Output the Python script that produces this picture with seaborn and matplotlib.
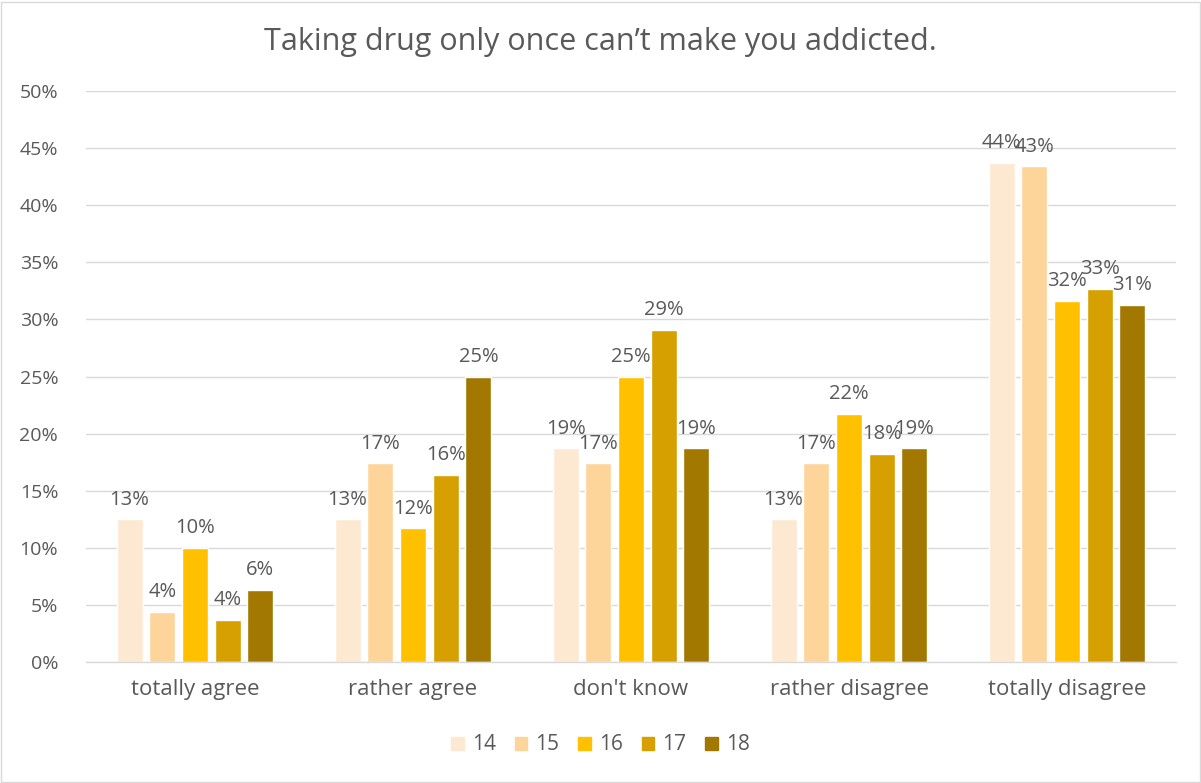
import matplotlib
matplotlib.use("Agg")
import matplotlib.pyplot as plt
import seaborn as sns
import pandas as pd
from matplotlib.ticker import FuncFormatter
from matplotlib.patches import Rectangle

categories = ["totally agree", "rather agree", "don't know", "rather disagree", "totally disagree"]
ages = ["14", "15", "16", "17", "18"]
age14 = [12.5, 12.5, 18.7, 12.5, 43.7]
age15 = [4.4, 17.4, 17.4, 17.4, 43.4]
age16 = [10.0, 11.7, 25.0, 21.7, 31.6]
age17 = [3.7, 16.4, 29.1, 18.2, 32.7]
age18 = [6.3, 25.0, 18.7, 18.7, 31.3]
colors = ["#FDE9D2", "#FDD59B", "#FFC000", "#D6A000", "#A27800"]
title = "Taking drug only once can\u2019t make you addicted."

series = [age14, age15, age16, age17, age18]
rows = []
for age, vals in zip(ages, series):
    for c, v in zip(categories, vals):
        rows.append({"category": c, "age": age, "value": v})
df = pd.DataFrame(rows)

sns.set_theme(style="white")
plt.rcParams['font.family'] = ['Open Sans', 'DejaVu Sans']
text_color = "#595959"

fig = plt.figure(figsize=(12.01, 7.83), dpi=100)
ax = fig.add_axes([86/1201, 1-662/783, 1090/1201, (662-91)/783])

sns.barplot(data=df, x="category", y="value", hue="age", order=categories,
            hue_order=ages, palette=colors, width=0.75, gap=0.2, ax=ax,
            saturation=1, legend=True, errorbar=None)

for cont in ax.containers:
    labels = [f"{int(b.get_height() + 0.5)}%" for b in cont]
    ax.bar_label(cont, labels=labels, padding=7, fontsize=14.5, color=text_color)

ax.set_ylim(0, 50)
ax.set_yticks(range(0, 51, 5))
ax.yaxis.set_major_formatter(FuncFormatter(lambda v, p: f"{int(v)}%"))
ax.set_xlim(-0.5, 4.5)
ax.grid(axis="y", color="#D9D9D9", linewidth=1)
ax.set_axisbelow(True)
for s in ["top", "right", "left"]:
    ax.spines[s].set_visible(False)
ax.spines["bottom"].set_color("#D9D9D9")
ax.spines["bottom"].set_linewidth(1)
ax.tick_params(axis="y", length=0, labelsize=14, colors=text_color, pad=20)
ax.tick_params(axis="x", length=0, labelsize=16, colors=text_color, pad=12)
ax.set_xlabel("")
ax.set_ylabel("")

ax.get_legend().remove()
handles = [Rectangle((0, 0), 1, 1, color=c) for c in colors]
fig.legend(handles, ages, loc="center", bbox_to_anchor=(0.5, 1-745/783), ncol=5,
           frameon=False, fontsize=15, handlelength=0.6, handleheight=0.6,
           handletextpad=0.4, columnspacing=0.9, labelcolor=text_color)

fig.text(0.5, 1-42/783, title, ha="center", va="center", fontsize=22, color=text_color)

fig.patches.append(Rectangle((0.001, 0.001), 0.998, 0.997, transform=fig.transFigure,
                             fill=False, edgecolor="#D9D9D9", linewidth=1))

fig.savefig("out.png", dpi=100)
